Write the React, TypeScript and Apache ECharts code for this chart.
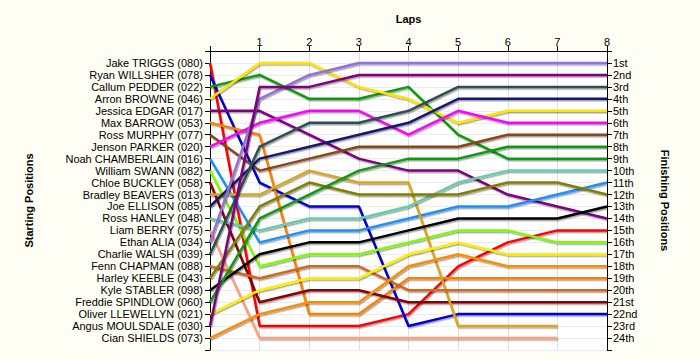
import React, { useEffect, useRef } from "react";
import * as echarts from "echarts";

const laps = [0, 1, 2, 3, 4, 5, 6, 7, 8];

const drivers = [
  "Jake TRIGGS (080)",
  "Ryan WILLSHER (078)",
  "Callum PEDDER (022)",
  "Arron BROWNE (046)",
  "Jessica EDGAR (017)",
  "Max BARROW (053)",
  "Ross MURPHY (077)",
  "Jenson PARKER (020)",
  "Noah CHAMBERLAIN (016)",
  "William SWANN (082)",
  "Chloe BUCKLEY (058)",
  "Bradley BEAVERS (013)",
  "Joe ELLISON (085)",
  "Ross HANLEY (048)",
  "Liam BERRY (075)",
  "Ethan ALIA (034)",
  "Charlie WALSH (039)",
  "Fenn CHAPMAN (088)",
  "Harley KEEBLE (043)",
  "Kyle STABLER (098)",
  "Freddie SPINDLOW (060)",
  "Oliver LLEWELLYN (021)",
  "Angus MOULSDALE (030)",
  "Cian SHIELDS (073)",
];

// position of each driver at laps 0..8 (null = did not complete the lap)
const lapPositions: (number | null)[][] = [
  [1, 23, 23, 23, 22, 18, 16, 15, 15],
  [2, 11, 13, 13, 23, 22, 22, 22, 22],
  [3, 2, 4, 4, 3, 7, 9, 9, 9],
  [4, 1, 1, 3, 4, 6, 5, 5, 5],
  [5, 5, 7, 9, 10, 10, 12, 13, 14],
  [6, 7, 22, 22, 19, 19, 19, 19, 19],
  [7, 10, 9, 8, 8, 8, 7, 7, 7],
  [8, 6, 5, 5, 7, 5, 6, 6, 6],
  [9, 16, 15, 15, 14, 13, 13, 12, 11],
  [10, 18, 17, 17, 16, 15, 15, 16, 16],
  [11, 21, 20, 20, 21, 21, 21, 21, 21],
  [12, 12, 10, 11, 11, 23, 23, 23, null],
  [13, 9, 8, 7, 6, 4, 4, 4, 4],
  [14, 15, 14, 14, 13, 11, 10, 10, 10],
  [15, 24, 24, 24, 24, 24, 24, 24, null],
  [16, 4, 2, 1, 1, 1, 1, 1, 1],
  [17, 8, 6, 6, 5, 3, 3, 3, 3],
  [18, 19, 18, 18, 20, 20, 20, 20, 20],
  [19, 13, 11, 12, 12, 12, 11, 11, 12],
  [20, 17, 16, 16, 15, 14, 14, 14, 13],
  [21, 14, 12, 10, 9, 9, 8, 8, 8],
  [22, 20, 19, 19, 17, 16, 17, 17, 17],
  [23, 3, 3, 2, 2, 2, 2, 2, 2],
  [24, 22, 21, 21, 18, 17, 18, 18, 18],
];

const lineColors = [
  "#ff0000", "#0000dd", "#109a10", "#ffe400", "#800080", "#ff8000",
  "#8b4513", "#ff00ff", "#1e90ff", "#7cfc00", "#8b0000", "#daa520",
  "#191970", "#66cdaa", "#ffa07a", "#9370db", "#2f4f4f", "#d2691e",
  "#808000", "#000000", "#109a10", "#ffee00", "#800080", "#ff8c00",
];

const finishLabels = [
  "1st", "2nd", "3rd", "4th", "5th", "6th", "7th", "8th", "9th", "10th",
  "11th", "12th", "13th", "14th", "15th", "16th", "17th", "18th", "19th",
  "20th", "21st", "22nd", "23rd", "24th",
];

export default function App() {
  const ref = useRef<HTMLDivElement>(null);
  useEffect(() => {
    const chart = echarts.init(ref.current!, null, { renderer: "svg" });
    const font = "'Liberation Sans', Arial, sans-serif";
    const axisCommon = {
      type: "value",
      min: 0,
      max: 25,
      interval: 1,
      inverse: true,
      axisLine: { show: true, onZero: false, lineStyle: { color: "#000", width: 1 } },
      axisTick: { show: true, length: 5, lineStyle: { color: "#000" } },
      nameLocation: "middle",
      nameTextStyle: { fontWeight: "bold", fontSize: 11, color: "#000", fontFamily: font },
    };
    chart.setOption({
      animation: false,
      backgroundColor: "#fffef4",
      textStyle: { fontFamily: font },
      grid: {
        left: 210, right: 93, top: 51, bottom: 10,
        show: true, backgroundColor: "#ffffff", borderWidth: 0,
      },
      xAxis: {
        type: "value",
        position: "top",
        min: 0,
        max: 8,
        interval: 1,
        name: "Laps",
        nameLocation: "middle",
        nameGap: 27,
        nameTextStyle: { fontWeight: "bold", fontSize: 11, color: "#000", fontFamily: font },
        axisLine: { show: true, onZero: false, lineStyle: { color: "#000" } },
        axisTick: { show: true, length: 5, lineStyle: { color: "#000" } },
        axisLabel: {
          formatter: (v: number) => (v === 0 ? "" : String(v)),
          fontSize: 11, color: "#000", margin: 4, fontFamily: font,
        },
        splitLine: { show: true, lineStyle: { color: "#e0e0e0" } },
      },
      yAxis: [
        {
          ...axisCommon,
          position: "left",
          name: "Starting Positions",
          nameGap: 176,
          nameRotate: 90,
          axisLabel: {
            formatter: (v: number) => (v >= 1 && v <= drivers.length ? drivers[v - 1] : ""),
            fontSize: 11, color: "#000", margin: 7, fontFamily: font,
          },
          splitLine: { show: true, lineStyle: { color: "#ececec" } },
        },
        {
          ...axisCommon,
          position: "right",
          name: "Finishing Positions",
          nameGap: 52,
          nameRotate: -90,
          axisLabel: {
            formatter: (v: number) => (v >= 1 && v <= finishLabels.length ? finishLabels[v - 1] : ""),
            fontSize: 11, color: "#000", margin: 6, fontFamily: font,
          },
          splitLine: { show: false },
        },
      ],
      series: drivers.map((name, i) => ({
        name,
        type: "line",
        yAxisIndex: 0,
        symbol: "none",
        data: lapPositions[i]
          .map((p, j) => (p == null ? null : [laps[j], p]))
          .filter((d) => d != null),
        lineStyle: {
          color: lineColors[i],
          width: 2.5,
          shadowColor: "rgba(0,0,0,0.35)",
          shadowBlur: 1,
          shadowOffsetX: 1,
          shadowOffsetY: 1.5,
        },
        itemStyle: { color: lineColors[i] },
      })),
    });
    return () => chart.dispose();
  }, []);
  return (
    <div
      ref={ref}
      style={{ position: "fixed", left: 0, top: 0, width: 700, height: 360 }}
    />
  );
}
